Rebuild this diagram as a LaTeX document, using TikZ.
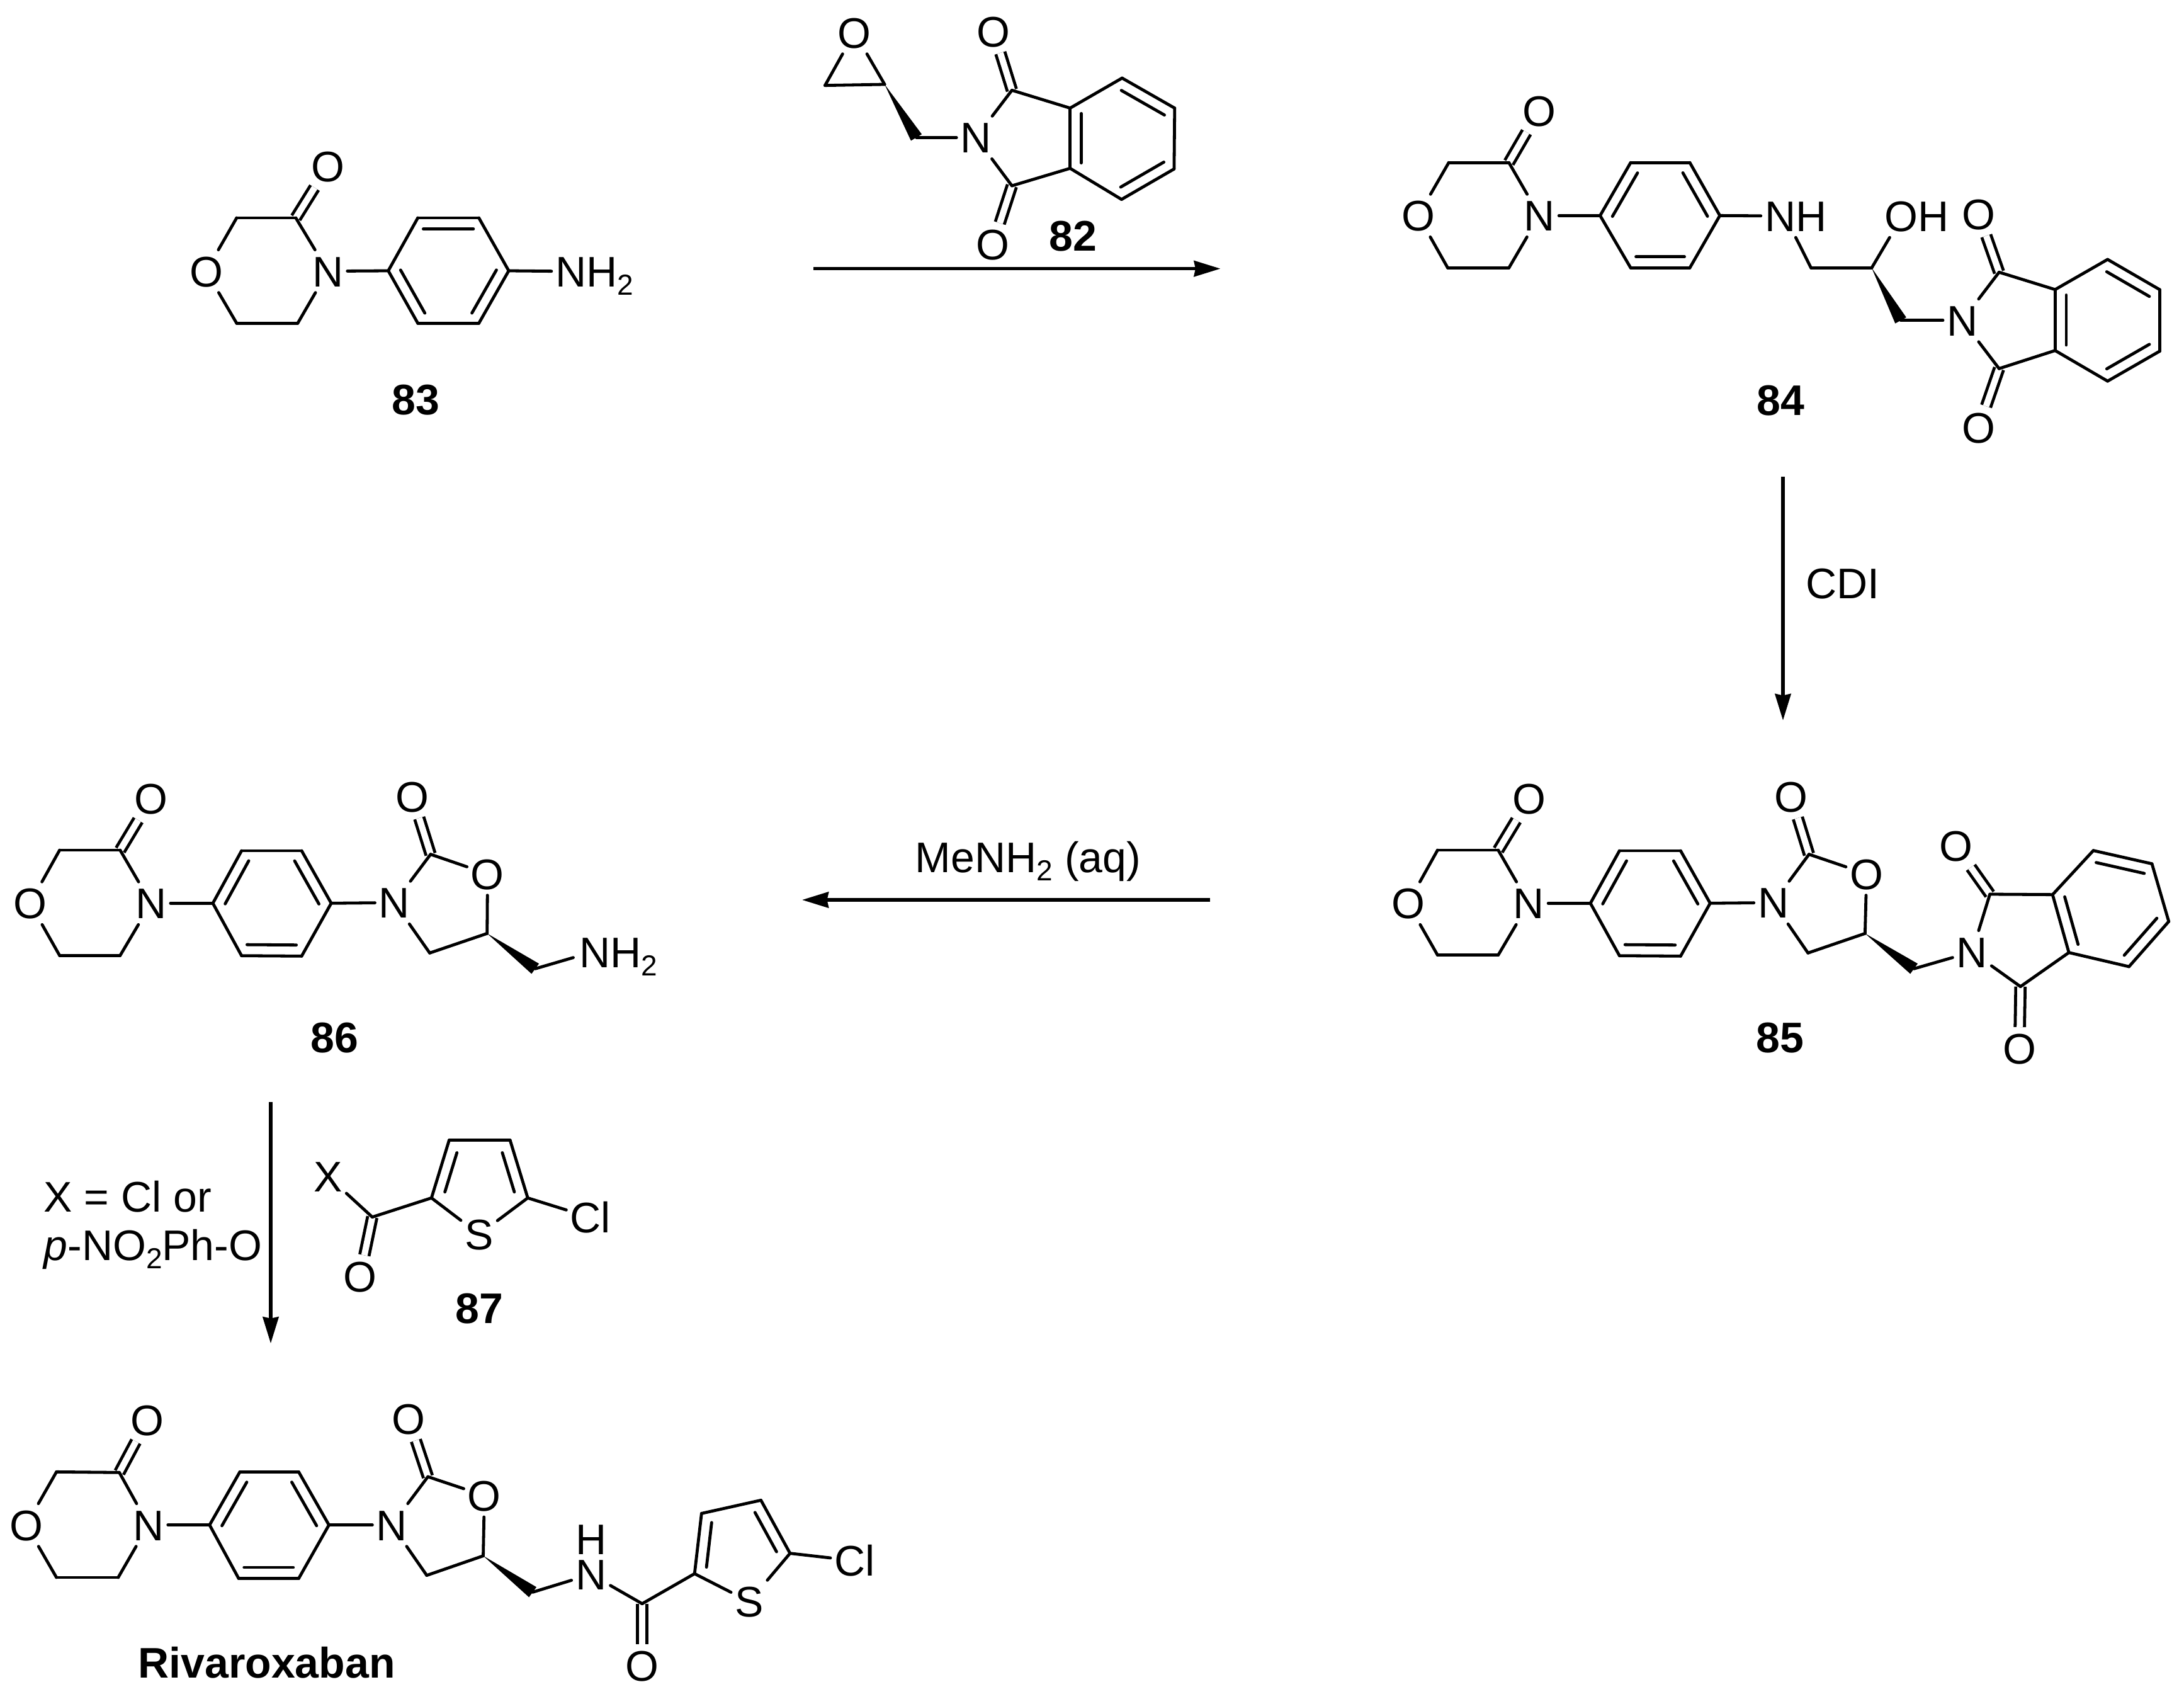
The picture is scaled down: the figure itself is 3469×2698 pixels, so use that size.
\documentclass[tikz,border=0pt]{standalone}
\usepackage{fontspec}
\setmainfont{Liberation Sans}
\usetikzlibrary{calc,arrows.meta}
\newcommand{\lowtwo}{\raisebox{-3.3pt}{\fontsize{11.5}{12}\selectfont 2}}
\tikzset{
  atom/.style={rectangle,font=\fontsize{17}{19}\selectfont,inner xsep=1.6pt,inner ysep=2.4pt,outer sep=0pt,text height=12.2pt,text depth=0pt},
  cmpd/.style={font=\fontsize{17}{19}\selectfont\bfseries,inner sep=0pt},
  note/.style={font=\fontsize{17}{19.2}\selectfont,inner sep=0pt},
  bond/.style={line width=1.2pt,line cap=round},
  dbond/.style={double,double distance=2.5pt,line width=1.2pt},
  rxn/.style={line width=1.3pt,-{Stealth[length=10.5pt,width=6.25pt,inset=.6pt]}}
}
\newcommand{\Cs}[1]{\foreach \n/\x/\y in {#1} {\coordinate (\n) at (\x,\y);}}
\newcommand{\Ats}[1]{\foreach \n/\x/\y/\t in {#1} {\node[atom] (\n) at (\x,\y) {\t};}}
\newcommand{\bonds}[1]{\foreach \a/\b in {#1} {\draw[bond] (\a) -- (\b);}}
\newcommand{\dbls}[1]{\foreach \a/\b in {#1} {\draw[dbond] (\a) -- (\b);}}
\newcommand{\inners}[2][.09]{\foreach \a/\b in {#2} {\draw[bond] ($(\a)!#1!(\b)!4.4pt!90:(\b)$) -- ($(\b)!#1!(\a)!4.4pt!-90:(\a)$);}}
\newcommand{\wdg}[2]{\fill (#1) -- ($(#2)!2.5pt!90:(#1)$) -- ($(#2)!2.5pt!-90:(#1)$) -- cycle;}
\newcommand{\core}[1]{%
  \dbls{#1C2/#1Ox}
  \bonds{#1O/#1C1,#1C1/#1C2,#1C2/#1N,#1N/#1C3,#1C3/#1C4,#1C4/#1O,#1N/#1a,#1a/#1b,#1b/#1c,#1c/#1d,#1d/#1e,#1e/#1f,#1f/#1a}}
\begin{document}
\begin{tikzpicture}[x=0.25pt,y=-0.25pt]
\fill[white] (0,0) rectangle (3469,2698);
\useasboundingbox (0,0) rectangle (3469,2698);

% ---------- 83
\begin{scope}[shift={(280,200)},x=0.12755pt,y=-0.08333pt]
\Ats{pO/93/692/O,pOx/472/192/O,pN/472/692/N}
\node[atom,anchor=west] (pNH) at (1168,692) {NH\lowtwo};
\Cs{pC1/188/438,pC2/372/438,pC3/378/940,pC4/188/940,pa/660/690,pb/752/438,pc/942/438,pd/1035/690,pe/942/940,pf/752/940}
\core{p}
\inners{pa/pf,pe/pd,pc/pb}
\bonds{pd/pNH.west}
\node[cmpd] (p83) at (745,1305) {83};
\end{scope}

% ---------- 82
\begin{scope}[shift={(1260,0)},x=0.11161pt,y=-0.08333pt]
\Ats{qOe/218/155/O,qN/650/655/N,qOt/713/150/O,qOb/710/1165/O}
\Cs{qCl/113/407,qCr/325/402,qCH/438/655,qCt/778/430,qCb/778/885,qg/985/515,qh/985/802,qi/1170/372,qj/1357/515,qk/1355/805,ql/1168/950}
\dbls{qCt/qOt,qCb/qOb}
\bonds{qOe/qCl,qCl/qCr,qCr/qOe,qCH/qN,qN/qCt,qCt/qg,qN/qCb,qCb/qh,qg/qh,qg/qi,qi/qj,qj/qk,qk/ql,ql/qh}
\inners{qg/qh,ql/qk,qj/qi}
\wdg{qCr}{qCH}
\node[cmpd] (q82) at (996,1125) {82};
\coordinate (r1s) at (72,1280);
\coordinate (r1e) at (1520,1280);
\draw[rxn] (r1s) -- (r1e);
\end{scope}

% ---------- 84
\begin{scope}[shift={(2200,130)},x=0.20233pt,y=-0.09566pt]
\Ats{sO/65/555/O,sOx/302/120/O,sN/303/555/N,sNH/806/557/NH,sOH/1044/557/OH,sN2/1133/990/N,sOt/1165/550/O,sOb/1165/1435/O}
\Cs{sC1/125/335,sC2/243/335,sC3/243/772,sC4/123/772,sa/422/555,sb/482/335,sc/598/335,sd/657/555,se/598/772,sf/482/772,sCa/836/772,sCb/955/772,sCH/1012/990,sCt/1205/790,sCu/1205/1190,sg/1315/862,sh/1315/1115,si/1418/737,sj/1520/862,sk/1520/1118,sl/1418/1242}
\dbls{sCt/sOt,sCu/sOb}
\core{s}
\inners{sf/se,sd/sc,sb/sa}
\bonds{sd/sNH,sNH.south/sCa,sCa/sCb,sOH.218/sCb,sCH/sN2,sN2/sCt,sCt/sg,sN2/sCu,sCu/sh,sg/sh,sg/si,si/sj,sj/sk,sk/sl,sl/sh}
\inners{sg/sh,sl/sk,sj/si}
\wdg{sCb}{sCH}
\node[cmpd] (s84) at (776,1322) {84};
\end{scope}

% ---------- 85
\begin{scope}[shift={(2200,1220)},x=0.20233pt,y=-0.08333pt]
\Ats{tO/45/643/O,tOx/283/145/O,tN/282/643/N,tN2/762/640/N,tOy/797/135/O,tOr/945/503/O,tN3/1152/875/N,tOt/1120/370/O,tOb/1245/1335/O}
\Cs{tC1/103/390,tC2/222/390,tC3/222/890,tC4/103/890,ta/403/643,tb/460/393,tc/580/393,td/638/643,te/580/895,tf/460/893,tCo/832/410,tC5/942/787,tC6/830/880,tCH/1038/955,tCt/1187/600,tCu/1247/1040,tg/1310/602,th/1342/878,ti/1390/392,tj/1505/455,tk/1538/730,tl/1460/945}
\dbls{tCo/tOy,tCt/tOt,tCu/tOb}
\core{t}
\inners{tf/te,td/tc,tb/ta}
\bonds{td/tN2,tN2/tCo,tCo/tOr,tOr/tC5,tC5/tC6,tC6/tN2,tCH/tN3,tN3/tCt,tCt/tg,tN3/tCu,tCu/th,tg/th,tg/ti,ti/tj,tj/tk,tk/tl,tl/th}
\inners{tg/th,tl/tk,tj/ti}
\wdg{tC5}{tCH}
\node[cmpd] (t85) at (775,1285) {85};
\end{scope}

% ---------- 86
\begin{scope}[shift={(0,1220)},x=0.17537pt,y=-0.08333pt]
\Ats{uO/68/643/O,uOx/342/145/O,uN/342/643/N,uN2/893/640/N,uOy/934/135/O,uOr/1104/503/O}
\node[atom,anchor=west] (uNH) at (1303,875) {NH\lowtwo};
\Cs{uC1/135/390,uC2/272/390,uC3/272/892,uC4/135/892,ua/482/643,ub/547/393,uc/683/393,ud/750/643,ue/683/895,uf/547/893,uCo/975/410,uC5/1103/787,uC6/973/880,uCH/1212/955,uNe/1298/902}
\dbls{uCo/uOy}
\core{u}
\inners{uf/ue,ud/uc,ub/ua}
\bonds{ud/uN2,uN2/uCo,uCo/uOr,uOr/uC5,uC5/uC6,uC6/uN2,uCH/uNe}
\wdg{uC5}{uCH}
\node[cmpd] (u86) at (757,1285) {86};
\end{scope}

% ---------- 87 and the step to rivaroxaban
\begin{scope}[shift={(0,1740)},x=0.17537pt,y=-0.08333pt]
\Ats{vX/743/385/X,vO/815/862/O,vS/1085/660/S,vCl/1337/580/Cl}
\Cs{vC/843/578,vC2/977/487,vC3/1017/212,vC4/1155/212,vC5/1195/487}
\dbls{vC/vO}
\bonds{vC/vX,vC/vC2,vC2/vC3,vC3/vC4,vC4/vC5,vC5/vS,vS/vC2,vC5/vCl}
\inners[.16]{vC5/vC4,vC3/vC2}
\node[cmpd] (v87) at (1085,1015) {87};
\node[note,align=left,anchor=west] (vcond) at (98,617) {X = Cl or\\\textit{p}-NO\lowtwo Ph-O};
\coordinate (r4s) at (613,30);
\coordinate (r4e) at (613,1180);
\draw[rxn] (r4s) -- (r4e);
\end{scope}

% ---------- rivaroxaban
\begin{scope}[shift={(0,2200)},x=0.23118pt,y=-0.08333pt]
\Ats{wO/45/665/O,wOx/253/165/O,wN/255/665/N,wN2/673/665/N,wOy/702/160/O,wOr/832/525/O,wN3/1015/900/N,wOa/1103/1335/O,wS/1287/1030/S,wCl/1468/835/Cl}
\node[atom,inner ysep=0pt] (wH) at (1015,733) {H};
\Cs{wC1/97/412,wC2/205/415,wC3/203/915,wC4/97/915,wa/360/665,wb/412/412,wc/513/412,wd/565/665,we/513/920,wf/410/920,wCo/735/435,wC5/830/812,wC6/733/905,wCH/915/985,wCa/1103/1040,wT2/1193/897,wT3/1205/610,wT4/1307/547,wT5/1357/800}
\dbls{wCo/wOy,wCa/wOa}
\core{w}
\inners{wf/we,wd/wc,wb/wa}
\bonds{wd/wN2,wN2/wCo,wCo/wOr,wOr/wC5,wC5/wC6,wC6/wN2,wCH/wN3,wN3/wCa,wCa/wT2,wT2/wT3,wT3/wT4,wT4/wT5,wT5/wS,wS/wT2,wT5/wCl}
\inners[.13]{wT5/wT4,wT3/wT2}
\wdg{wC5}{wCH}
\node[cmpd] (w0) at (458,1322) {Rivaroxaban};
\end{scope}

% ---------- remaining arrows and conditions
\coordinate (r2s) at (2832,757);
\coordinate (r2e) at (2832,1144);
\draw[rxn] (r2s) -- (r2e);
\node[note] (cdi) at (2927,927) {CDI};
\coordinate (r3s) at (1922,1429);
\coordinate (r3e) at (1274,1429);
\draw[rxn] (r3s) -- (r3e);
\node[note,anchor=base] (men) at (1633,1385) {MeNH\lowtwo\ (aq)};
\end{tikzpicture}
\end{document}
